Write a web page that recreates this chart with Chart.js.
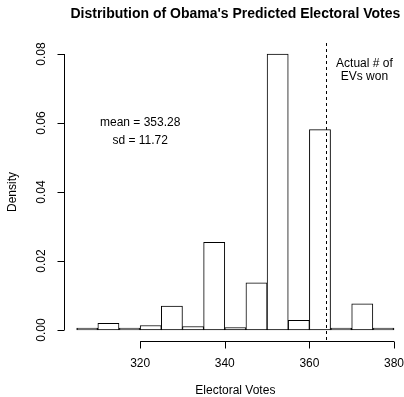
<!DOCTYPE html>
<html>
<head>
<meta charset="utf-8">
<script src="https://cdn.jsdelivr.net/npm/chart.js@4"></script>
<style>
html,body{margin:0;padding:0;background:#fff;}
#wrap{width:404px;height:397px;position:relative;}
</style>
</head>
<body>
<div id="wrap"><canvas id="c" width="404" height="397"></canvas></div>
<script>
// Histogram bins (width 5 electoral votes)
const binStarts = [305,310,315,320,325,330,335,340,345,350,355,360,365,370,375];
const binWidth = 5;
const densities = [0.0001,0.0019,0.0003,0.0013,0.0069,0.0010,0.0254,0.0007,0.0137,0.0800,0.0028,0.0581,0.0005,0.0076,0.0002];
const xTicks = [320,340,360,380];
const yTicks = [0.00,0.02,0.04,0.06,0.08];
const yTickLabels = ["0.00","0.02","0.04","0.06","0.08"];
const actualEVs = 364;
const titleText = "Distribution of Obama's Predicted Electoral Votes";
const xLabel = "Electoral Votes";
const yLabel = "Density";
const statsText = ["mean = 353.28","sd = 11.72"];
const statsPos = {x:320, y:[0.06,0.055]};
const actualText = ["Actual # of","EVs won"];
const actualPos = {x:373, y:[0.0773,0.0734]};

const FONT = '"Liberation Sans", Arial, Helvetica, sans-serif';

const rPlot = {
  id:'rPlot',
  afterDraw(chart){
    const ctx = chart.ctx;
    const xs = chart.scales.x, ys = chart.scales.y;
    const area = chart.chartArea;
    ctx.save();
    ctx.strokeStyle = '#000';
    ctx.fillStyle = '#000';
    ctx.lineWidth = 1;
    // x axis
    const xa = Math.round(area.bottom)+0.5;
    ctx.beginPath();
    ctx.moveTo(xs.getPixelForValue(xTicks[0]), xa);
    ctx.lineTo(xs.getPixelForValue(xTicks[xTicks.length-1]), xa);
    xTicks.forEach(t=>{
      const p = Math.round(xs.getPixelForValue(t))+0.5;
      ctx.moveTo(p, xa); ctx.lineTo(p, xa+7);
    });
    ctx.stroke();
    ctx.font = '12px ' + FONT;
    ctx.textAlign = 'center'; ctx.textBaseline = 'middle';
    xTicks.forEach(t=>{
      ctx.fillText(String(t), xs.getPixelForValue(t), 364);
    });
    // y axis
    const ya = Math.round(area.left)+0.5;
    ctx.beginPath();
    ctx.moveTo(ya, ys.getPixelForValue(yTicks[0]));
    ctx.lineTo(ya, ys.getPixelForValue(yTicks[yTicks.length-1]));
    yTicks.forEach(t=>{
      const p = Math.round(ys.getPixelForValue(t))+0.5;
      ctx.moveTo(ya, p); ctx.lineTo(ya-7, p);
    });
    ctx.stroke();
    yTicks.forEach((t,i)=>{
      ctx.save();
      ctx.translate(42, ys.getPixelForValue(t));
      ctx.rotate(-Math.PI/2);
      ctx.fillText(yTickLabels[i], 0, 0);
      ctx.restore();
    });
    // axis titles
    ctx.fillText(xLabel, (area.left+ xs.getPixelForValue(383))/2, 391);
    ctx.save();
    ctx.translate(13, (area.top+area.bottom)/2);
    ctx.rotate(-Math.PI/2);
    ctx.fillText(yLabel, 0, 0);
    ctx.restore();
    // title
    ctx.font = 'bold 14px ' + FONT;
    ctx.fillText(titleText, (area.left + xs.getPixelForValue(383))/2, 14);
    // dashed line for actual EVs
    ctx.beginPath();
    ctx.setLineDash([3,3]);
    const dx = Math.round(xs.getPixelForValue(actualEVs))+0.5;
    ctx.moveTo(dx, area.top); ctx.lineTo(dx, area.bottom);
    ctx.stroke();
    ctx.setLineDash([]);
    // annotations
    ctx.font = '12px ' + FONT;
    statsText.forEach((s,i)=>{
      ctx.fillText(s, xs.getPixelForValue(statsPos.x), ys.getPixelForValue(statsPos.y[i]));
    });
    actualText.forEach((s,i)=>{
      ctx.fillText(s, xs.getPixelForValue(actualPos.x), ys.getPixelForValue(actualPos.y[i]));
    });
    ctx.restore();
  }
};

new Chart(document.getElementById('c'), {
  type:'bar',
  data:{
    datasets:[{
      data: binStarts.map((s,i)=>({x:s+binWidth/2, y:densities[i]})),
      backgroundColor:'#ffffff',
      borderColor:'#000000',
      borderWidth:1,
      barPercentage:1,
      categoryPercentage:1,
      borderSkipped:false,
      minBarLength:2
    }]
  },
  options:{
    responsive:false,
    animation:false,
    events:[],
    layout:{padding:{left:64, right:0, top:43, bottom:56}},
    plugins:{legend:{display:false}, tooltip:{enabled:false}, title:{display:false}},
    scales:{
      x:{type:'linear', display:false, min:302, max:382.36, offset:false},
      y:{type:'linear', display:false, min:-0.0032, max:0.0832}
    }
  },
  plugins:[rPlot]
});
</script>
</body>
</html>
